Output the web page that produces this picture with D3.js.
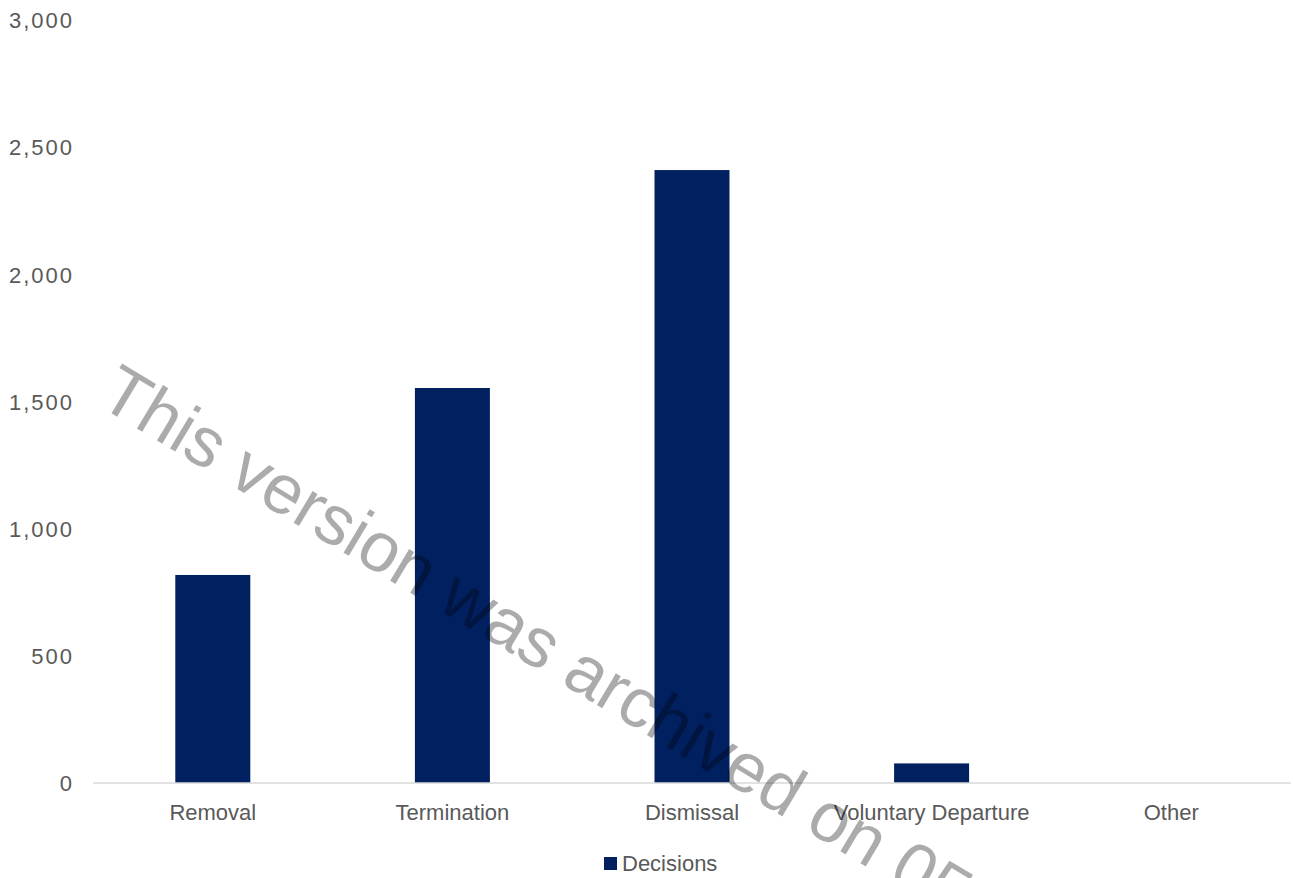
<!DOCTYPE html>
<html>
<head>
<meta charset="utf-8">
<script src="https://cdn.jsdelivr.net/npm/d3@7"></script>
<style>
  html, body { margin: 0; padding: 0; background: #ffffff; }
  svg { display: block; }
  text { font-family: "Liberation Sans", Arial, sans-serif; }
</style>
</head>
<body>
<svg id="chart" width="1293" height="878"></svg>
<script>
const categories = ["Removal", "Termination", "Dismissal", "Voluntary Departure", "Other"];
const decisions = [818, 1553, 2410, 77, 0];
const yTicks = [0, 500, 1000, 1500, 2000, 2500, 3000];
const seriesName = "Decisions";
const watermarkText = "This version was archived on 05/01/2024";

const W = 1293, H = 878;
const margin = { left: 93, right: 2, top: 20, bottom: 95 };
const svg = d3.select("#chart");

const x = d3.scaleBand()
  .domain(categories)
  .range([margin.left, W - margin.right])
  .paddingInner(0.687)
  .paddingOuter(0.3435);

const y = d3.scaleLinear()
  .domain([0, 3000])
  .range([H - margin.bottom, margin.top]);

// Y axis labels (no line, no ticks)
const yAxis = d3.axisLeft(y).tickValues(yTicks).tickFormat(d3.format(",")).tickSize(0).tickPadding(0);
const gy = svg.append("g").attr("transform", `translate(74,0)`).call(yAxis);
gy.select(".domain").remove();
gy.selectAll("text")
  .attr("fill", "#595959")
  .attr("font-size", "22px")
  .attr("letter-spacing", "2px")
  .attr("dy", "0.35em")
  .style("font-family", "'Liberation Sans', Arial, sans-serif");

// Bars
svg.append("g").selectAll("rect")
  .data(categories.map((c, i) => ({ c, v: decisions[i] })))
  .join("rect")
  .attr("x", d => x(d.c))
  .attr("width", x.bandwidth())
  .attr("y", d => y(d.v))
  .attr("height", d => y(0) - y(d.v))
  .attr("fill", "#002060");

// X axis
const xAxis = d3.axisBottom(x).tickSize(0).tickPadding(0);
const gx = svg.append("g").attr("transform", `translate(0,${y(0)})`).call(xAxis);
gx.select(".domain").attr("stroke", "#d9d9d9").attr("stroke-width", 1.5)
  .attr("d", `M${margin.left},0H${W - margin.right}`);
gx.selectAll("text")
  .attr("fill", "#595959")
  .attr("font-size", "22px")
  .attr("y", 37)
  .attr("dy", 0)
  .style("font-family", "'Liberation Sans', Arial, sans-serif");

// Legend
const legend = svg.append("g").attr("transform", "translate(604,857)");
legend.append("rect").attr("width", 13).attr("height", 13).attr("fill", "#002060");
legend.append("text").attr("x", 18).attr("y", 14).attr("fill", "#595959")
  .attr("font-size", "22px").text(seriesName);

// Watermark
svg.append("text")
  .attr("transform", "translate(96,404) rotate(31)")
  .attr("font-size", "70px")
  .attr("fill", "#000000")
  .attr("fill-opacity", 0.33)
  .text(watermarkText);
</script>
</body>
</html>
